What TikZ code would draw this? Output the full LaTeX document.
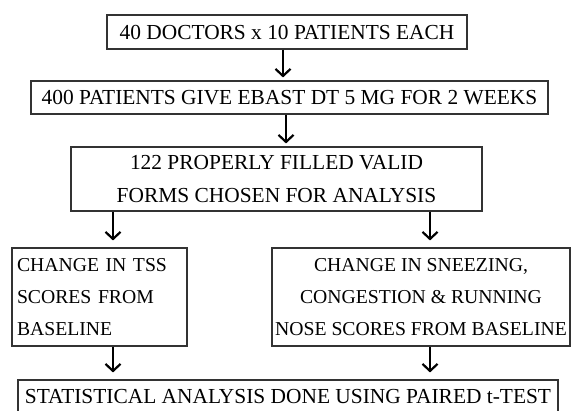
\documentclass[tikz,border=0pt]{standalone}
\usepackage{fontspec}
\setmainfont{Liberation Serif}
\usetikzlibrary{arrows.meta}
\tikzset{
  box/.style={draw=black!80, line width=1.1pt, inner sep=0pt, font=\fontsize{21.4}{32.5}\selectfont},
  smallbox/.style={box, font=\fontsize{19.7}{32}\selectfont},
  arr/.style={line width=2.2pt, -{Straight Barb[length=7pt,width=15pt,line width=2.2pt]}},
}
\begin{document}
\begin{tikzpicture}[x=1pt,y=-1pt]
\useasboundingbox (0,0) rectangle (572,410);
\node[box, minimum width=360pt, minimum height=34pt] (b1) at (287,32) {40 DOCTORS x 10 PATIENTS EACH};
\node[box, minimum width=517pt, minimum height=33pt] (b2) at (289.5,97.5) {400 PATIENTS GIVE EBAST DT 5 MG FOR 2 WEEKS};
\node[box, minimum width=411pt, minimum height=64pt, align=center] (b3) at (276.5,179) {122 PROPERLY FILLED VALID\\FORMS CHOSEN FOR ANALYSIS};
\node[smallbox, minimum width=175pt, minimum height=98pt, text width=165pt, align=left] (b4) at (99.5,297) {CHANGE IN TSS\\SCORES FROM\\BASELINE};
\node[smallbox, minimum width=298pt, minimum height=98pt, align=center] (b5) at (421,297) {CHANGE IN SNEEZING,\\CONGESTION \& RUNNING\\NOSE SCORES FROM BASELINE};
\node[box, minimum width=540pt, minimum height=34pt] (b6) at (288,397) {STATISTICAL ANALYSIS DONE USING PAIRED t-TEST};
\coordinate (c1) at (283,0);
\coordinate (c2) at (286,0);
\coordinate (cl) at (113,0);
\coordinate (cr) at (430,0);
\draw[arr, shorten >=3pt] (b1.south -| c1) -- (b2.north -| c1);
\draw[arr, shorten >=3pt] (b2.south -| c2) -- (b3.north -| c2);
\draw[arr, shorten >=7pt] (b3.south -| cl) -- (b4.north -| cl);
\draw[arr, shorten >=7pt] (b3.south -| cr) -- (b5.north -| cr);
\draw[arr, shorten >=7pt] (b4.south -| cl) -- (b6.north -| cl);
\draw[arr, shorten >=7pt] (b5.south -| cr) -- (b6.north -| cr);
\end{tikzpicture}
\end{document}
